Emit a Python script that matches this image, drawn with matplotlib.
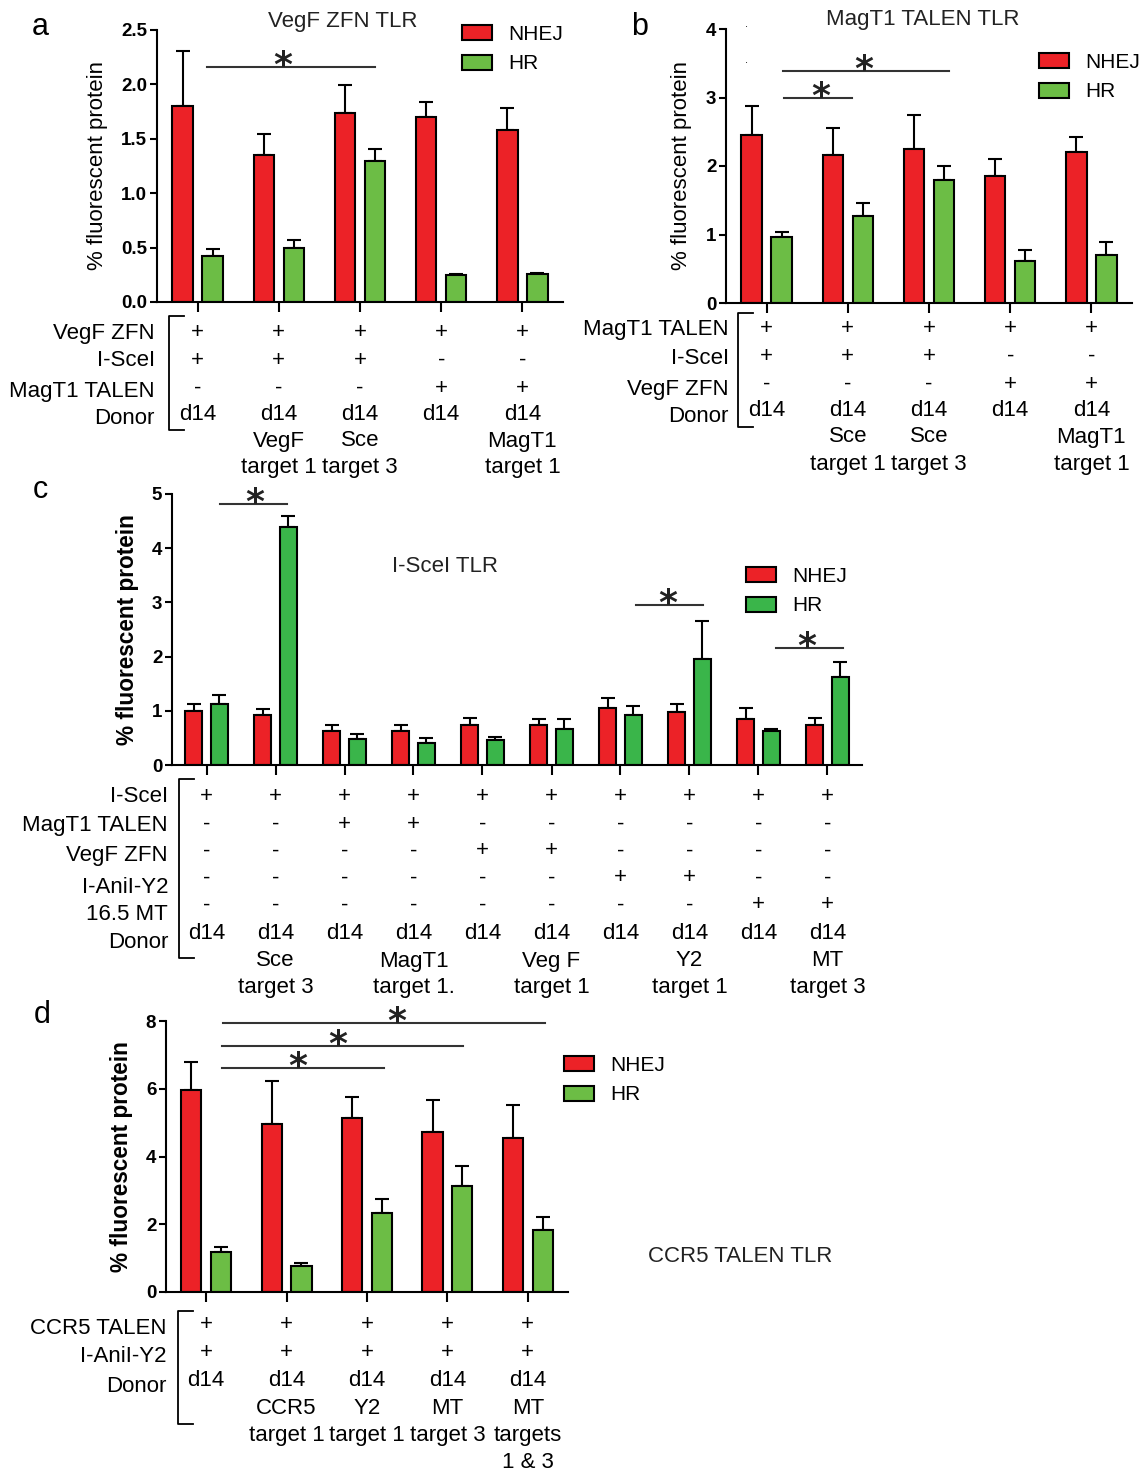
import numpy as np
import matplotlib
matplotlib.use("Agg")
import matplotlib.pyplot as plt
import matplotlib.transforms as mtransforms
from matplotlib.lines import Line2D
from matplotlib.patches import Patch

plt.rcParams['font.family'] = ['Liberation Sans', 'DejaVu Sans']

W, H = 1144, 1472
RED = '#ec2227'
GREEN = '#6cbd45'
GREEN_C = '#3ab54a'
FS = 16

# ---- data ----
a_nhej = [1.80, 1.35, 1.74, 1.70, 1.58]
a_nhej_err = [0.51, 0.19, 0.25, 0.14, 0.20]
a_hr = [0.42, 0.50, 1.30, 0.25, 0.26]
a_hr_err = [0.07, 0.07, 0.11, 0.01, 0.01]

b_nhej = [2.45, 2.16, 2.25, 1.86, 2.21]
b_nhej_err = [0.42, 0.40, 0.50, 0.24, 0.21]
b_hr = [0.96, 1.27, 1.80, 0.62, 0.70]
b_hr_err = [0.08, 0.19, 0.20, 0.16, 0.19]

c_nhej = [1.00, 0.93, 0.63, 0.63, 0.73, 0.73, 1.05, 0.98, 0.85, 0.73]
c_nhej_err = [0.12, 0.10, 0.11, 0.11, 0.14, 0.12, 0.19, 0.15, 0.21, 0.13]
c_hr = [1.13, 4.39, 0.48, 0.41, 0.46, 0.66, 0.93, 1.96, 0.62, 1.62]
c_hr_err = [0.17, 0.21, 0.10, 0.08, 0.06, 0.18, 0.16, 0.70, 0.05, 0.28]

d_nhej = [5.95, 4.95, 5.14, 4.72, 4.55]
d_nhej_err = [0.84, 1.28, 0.62, 0.96, 0.96]
d_hr = [1.18, 0.77, 2.34, 3.13, 1.83]
d_hr_err = [0.15, 0.08, 0.40, 0.60, 0.37]

# significance bars: (x start, x end, y, star x)
a_sig = [(0.12, 2.18, 2.16, 1.05)]
b_sig = [(0.20, 2.25, 3.39, 1.20), (0.22, 1.05, 2.99, 0.67)]
c_sig = [(0.20, 1.16, 4.81, 0.70), (6.22, 7.20, 2.95, 6.68), (8.25, 9.22, 2.16, 8.70)]
d_sig = [(0.21, 4.21, 7.94, 2.37), (0.20, 3.20, 7.27, 1.63), (0.20, 2.21, 6.61, 1.14)]

# condition tables
a_rows = ['VegF ZFN', 'I-SceI', 'MagT1 TALEN', 'Donor']
a_cells = [['+', '+', '+', '+', '+'],
           ['+', '+', '+', '-', '-'],
           ['-', '-', '-', '+', '+'],
           ['d14', 'd14', 'd14', 'd14', 'd14']]
a_donor = [['', 'VegF', 'Sce', '', 'MagT1'],
           ['', 'target 1', 'target 3', '', 'target 1']]

b_rows = ['MagT1 TALEN', 'I-SceI', 'VegF ZFN', 'Donor']
b_cells = [['+', '+', '+', '+', '+'],
           ['+', '+', '+', '-', '-'],
           ['-', '-', '-', '+', '+'],
           ['d14', 'd14', 'd14', 'd14', 'd14']]
b_donor = [['', 'Sce', 'Sce', '', 'MagT1'],
           ['', 'target 1', 'target 3', '', 'target 1']]

c_rows = ['I-SceI', 'MagT1 TALEN', 'VegF ZFN', 'I-AniI-Y2', '16.5 MT', 'Donor']
c_cells = [['+'] * 10,
           ['-', '-', '+', '+', '-', '-', '-', '-', '-', '-'],
           ['-', '-', '-', '-', '+', '+', '-', '-', '-', '-'],
           ['-', '-', '-', '-', '-', '-', '+', '+', '-', '-'],
           ['-', '-', '-', '-', '-', '-', '-', '-', '+', '+'],
           ['d14'] * 10]
c_donor = [['', 'Sce', '', 'MagT1', '', 'Veg F', '', 'Y2', '', 'MT'],
           ['', 'target 3', '', 'target 1.', '', 'target 1', '', 'target 1', '', 'target 3']]

d_rows = ['CCR5 TALEN', 'I-AniI-Y2', 'Donor']
d_cells = [['+'] * 5, ['+'] * 5, ['d14'] * 5]
d_donor = [['', 'CCR5', 'Y2', 'MT', 'MT'],
           ['', 'target 1', 'target 1', 'target 3', 'targets'],
           ['', '', '', '', '1 & 3']]

fig = plt.figure(figsize=(W / 100, H / 100), dpi=100)


def fx(px):
    return px / W


def fy(py):
    return 1 - py / H


def make_ax(left, right, top, bottom):
    return fig.add_axes([fx(left), fy(bottom), fx(right - left), (bottom - top) / H])


def panel(ax, nhej, nhej_err, hr, hr_err, ymax, yticks, fmt, green, bold_label,
          label_x, sig, title=None, title_xy=None, leg_xy=None):
    n = len(nhej)
    x = np.arange(n)
    off, w = 0.185, 0.25
    ax.bar(x - off, nhej, w, color=RED, edgecolor='black', linewidth=1.5, zorder=2)
    ax.bar(x + off, hr, w, color=green, edgecolor='black', linewidth=1.5, zorder=2)
    ax.errorbar(x - off, nhej, yerr=[np.zeros(n), nhej_err], fmt='none', ecolor='black',
                elinewidth=1.5, capsize=5, capthick=1.5, zorder=1)
    ax.errorbar(x + off, hr, yerr=[np.zeros(n), hr_err], fmt='none', ecolor='black',
                elinewidth=1.5, capsize=5, capthick=1.5, zorder=1)
    ax.set_xlim(-0.5, n - 0.5)
    ax.set_ylim(0, ymax)
    ax.set_xticks(x)
    ax.set_xticklabels([])
    ax.set_yticks(yticks)
    ax.set_yticklabels([fmt % t for t in yticks], fontweight='bold', fontsize=13.5)
    ax.tick_params(axis='x', length=7, width=1.5, direction='out')
    ax.tick_params(axis='y', length=5, width=1.5, pad=2)
    for s in ['top', 'right']:
        ax.spines[s].set_visible(False)
    for s in ['left', 'bottom']:
        ax.spines[s].set_linewidth(1.5)
    ax.set_ylabel('% fluorescent protein', fontsize=16.3 if bold_label else 16,
                  fontweight='bold' if bold_label else 'normal')
    pos = ax.get_position()
    ax.yaxis.set_label_coords(fx(label_x), pos.y0 + pos.height / 2, transform=fig.transFigure)
    for x1, x2, y, sx in sig:
        ax.plot([x1, x2], [y, y], color='#333333', lw=1.5, clip_on=False)
        ax.annotate('*', (sx, y), xytext=(0, -9), textcoords='offset pixels', ha='center',
                    va='baseline', fontsize=26, family='DejaVu Sans', fontweight='bold',
                    color='#222222', annotation_clip=False)
    if title:
        fig.text(fx(title_xy[0]), fy(title_xy[1]), title, ha='center', va='center', fontsize=FS,
                 color='#222222')
    if leg_xy:
        handles = [Patch(facecolor=RED, edgecolor='black', linewidth=1.5, label='NHEJ'),
                   Patch(facecolor=green, edgecolor='black', linewidth=1.5, label='HR')]
        ax.legend(handles=handles, loc='upper left', bbox_to_anchor=(fx(leg_xy[0]), fy(leg_xy[1])),
                  bbox_transform=fig.transFigure, frameon=False, fontsize=15,
                  handlelength=1.45, handleheight=0.72, labelspacing=0.5, handletextpad=0.75,
                  borderaxespad=0, borderpad=0)


def table(ax, rows, row_y, label_right, cells, cell_y, donor, donor_y, brk_x, brk_top, brk_bot):
    tr = mtransforms.blended_transform_factory(ax.transData, fig.transFigure)
    for name, y in zip(rows, row_y):
        fig.text(fx(label_right), fy(y), name, ha='right', va='center', fontsize=FS)
    for row, y in zip(cells, cell_y):
        for i, s in enumerate(row):
            ax.text(i, fy(y), s, transform=tr, ha='center', va='center', fontsize=FS,
                    clip_on=False)
    for row, y in zip(donor, donor_y):
        for i, s in enumerate(row):
            if s:
                ax.text(i, fy(y), s, transform=tr, ha='center', va='center', fontsize=FS,
                        clip_on=False)
    fig.add_artist(Line2D([fx(brk_x + 15), fx(brk_x), fx(brk_x), fx(brk_x + 15)],
                          [fy(brk_top), fy(brk_top), fy(brk_bot), fy(brk_bot)],
                          color='black', lw=1.3, transform=fig.transFigure))


# ---- panel a ----
axa = make_ax(157, 563, 30, 302)
panel(axa, a_nhej, a_nhej_err, a_hr, a_hr_err, 2.5, [0, 0.5, 1.0, 1.5, 2.0, 2.5], '%.1f',
      GREEN, False, 108, a_sig, 'VegF ZFN TLR', (343, 21), (462, 25))
table(axa, a_rows, [333, 361, 392, 419], 155, a_cells, [332, 360, 388, 414],
      a_donor, [441, 468], 169, 316, 430)

# ---- panel b ----
axb = make_ax(726, 1132, 29, 303)
panel(axb, b_nhej, b_nhej_err, b_hr, b_hr_err, 4, [0, 1, 2, 3, 4], '%d',
      GREEN, False, 692, b_sig, 'MagT1 TALEN TLR', (923, 20), (1039, 53))
table(axb, b_rows, [330, 358, 390, 417], 729, b_cells, [328, 356, 384, 410],
      b_donor, [437, 464], 738, 313, 427)
fig.text(fx(746), fy(24), '.', ha='center', va='center', fontsize=8)
fig.text(fx(746), fy(60), '.', ha='center', va='center', fontsize=8)

# ---- panel c ----
axc = make_ax(172, 862, 494, 765)
panel(axc, c_nhej, c_nhej_err, c_hr, c_hr_err, 5, [0, 1, 2, 3, 4, 5], '%d',
      GREEN_C, True, 139, c_sig, 'I-SceI TLR', (445, 567), (746, 567))
table(axc, c_rows, [797, 825, 856, 887, 915, 942], 168, c_cells,
      [797, 824, 851, 878, 905, 933], c_donor, [961, 988], 179, 779, 958)

# ---- panel d ----
axd = make_ax(166, 568, 1021, 1292)
panel(axd, d_nhej, d_nhej_err, d_hr, d_hr_err, 8, [0, 2, 4, 6, 8], '%d',
      GREEN, True, 133, d_sig, 'CCR5 TALEN TLR', (740, 1257), (564, 1056))
table(axd, d_rows, [1328, 1356, 1387], 166, d_cells, [1325, 1352, 1380],
      d_donor, [1408, 1436, 1462], 178, 1311, 1424)

# panel letters
for letter, (px, py) in zip('abcd', [(40, 27), (640, 27), (40, 490), (42, 1015)]):
    fig.text(fx(px), fy(py), letter, ha='center', va='center', fontsize=22)

plt.savefig('out.png', dpi=100)
